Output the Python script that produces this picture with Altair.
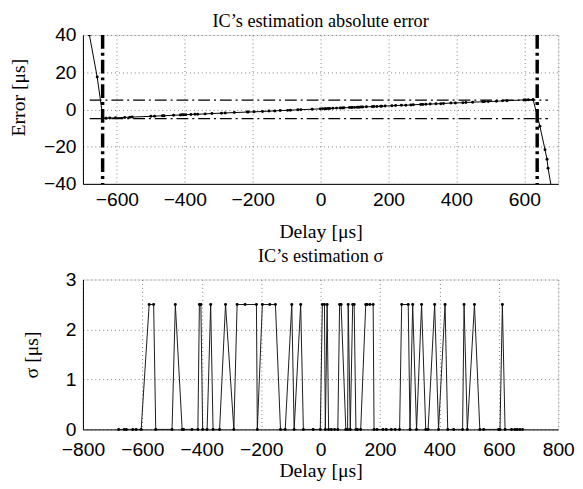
import altair as alt
import pandas as pd

# ---------------- data ----------------
# Top panel: estimation absolute error [us] vs delay [us]
err_delay = [-681, -658, -641, -632, -621, -604, -577, -562, -555, -500, -489, -466, -461,
             -433, -413, -408, -403, -397, -382, -370, -362, -340, -320, -292, -281, -254,
             -216, -213, -196, -171, -152, -135, -119, -97, -89, -67, -58, -25, -1, 6, 13,
             16, 22, 27, 36, 47, 58, 64, 69, 85, 91, 93, 100, 108, 113, 119, 124, 135, 152,
             157, 166, 177, 180, 190, 210, 221, 238, 251, 266, 273, 295, 301, 310, 323, 340,
             354, 362, 384, 397, 419, 428, 448, 478, 483, 494, 518, 536, 549, 599, 604, 612,
             626, 646, 661, 667, 670, 680]
err_value = [40.0, 17.4, -4.8, -4.7, -4.6, -4.5, -4.3, -4.2, -4.1, -3.7, -3.6, -3.4, -3.4,
             -3.1, -3.0, -2.9, -2.9, -2.8, -2.7, -2.6, -2.6, -2.4, -2.2, -2.0, -1.9, -1.7,
             -1.4, -1.4, -1.3, -1.1, -0.9, -0.8, -0.6, -0.5, -0.4, -0.2, -0.1, 0.1, 0.3, 0.4,
             0.4, 0.4, 0.5, 0.5, 0.6, 0.7, 0.8, 0.8, 0.9, 1.0, 1.0, 1.1, 1.1, 1.2, 1.2, 1.3,
             1.3, 1.4, 1.5, 1.6, 1.6, 1.7, 1.7, 1.8, 2.0, 2.1, 2.2, 2.3, 2.4, 2.5, 2.7, 2.7,
             2.8, 2.9, 3.0, 3.1, 3.2, 3.4, 3.5, 3.6, 3.7, 3.9, 4.1, 4.2, 4.2, 4.4, 4.6, 4.7,
             5.1, 5.1, 5.2, 5.3, -9.0, -21.6, -26.8, -31.6, -42.0]

# thresholds drawn on the top panel
limit_delays = [-642, 638]
limit_errors = [5, -5]
limit_span = [-680, 670]

# Bottom panel: estimation sigma [us] vs delay [us]
sig_delay = [-680, -661, -654, -632, -621, -604, -577, -562, -555, -500, -489, -466, -461,
             -433, -413, -408, -403, -397, -382, -370, -362, -340, -320, -292, -281, -254,
             -216, -213, -196, -171, -152, -135, -119, -97, -89, -67, -58, -25, -1, 6, 13,
             16, 22, 27, 36, 47, 58, 64, 69, 85, 91, 93, 100, 108, 113, 119, 124, 135, 152,
             157, 166, 177, 180, 190, 210, 221, 238, 251, 266, 273, 295, 301, 310, 323, 340,
             354, 362, 384, 397, 419, 428, 448, 478, 483, 494, 518, 536, 549, 599, 604, 612,
             621, 643, 654, 662, 671, 680]
sig_value = [0, 0, 0, 0, 0, 0, 2.5, 2.5, 0, 0, 2.5, 0, 0,
             0, 0, 2.5, 2.5, 0, 0, 2.5, 0, 0, 2.5, 0, 2.5, 2.5,
             2.5, 0, 2.5, 2.5, 2.5, 0, 0, 2.5, 0, 2.5, 0, 0, 0, 2.5, 2.5,
             0, 2.5, 0, 0, 0, 0, 2.5, 2.5, 0, 0, 2.5, 0, 2.5, 2.5, 0, 0, 0, 2.5,
             2.5, 2.5, 2.5, 0, 0, 0, 0, 0, 0, 0, 2.5, 2.5, 0, 2.5, 0, 2.5,
             0, 0, 2.5, 0, 2.5, 0, 0, 0, 2.5, 0, 2.5, 0, 0, 0, 0, 2.5,
             0, 0, 0, 0, 0, 0]

top_x_ticks = [-700, -600, -400, -200, 0, 200, 400, 600, 700]
top_y_ticks = [-40, -20, 0, 20, 40]
bot_x_ticks = [-800, -600, -400, -200, 0, 200, 400, 600, 800]
bot_y_ticks = [0, 1, 2, 3]

err_df = pd.DataFrame({"delay": err_delay, "error": err_value})
sig_df = pd.DataFrame({"delay": sig_delay, "sigma": sig_value})
vlim_df = pd.DataFrame({"delay": limit_delays})
hlim_df = pd.DataFrame({"error": limit_errors,
                        "x1": [limit_span[0]] * len(limit_errors),
                        "x2": [limit_span[1]] * len(limit_errors)})

SANS = "Liberation Sans"
SERIF = "Liberation Serif"
W, H = 482, 151

def axis(values, title, label_expr=None, title_pad=8, title_y=None, label_pad=7):
    kw = dict(values=values, title=title, grid=True, gridDash=[1, 3], gridColor="#808080",
              gridWidth=1, domainColor="black", domainWidth=1, ticks=False, tickSize=0,
              labelFont=SANS, labelFontSize=19.5, labelColor="black", labelPadding=label_pad,
              labelFlush=False, labelOverlap=False, labelSeparation=0,
              titleFont=SERIF, titleFontSize=20,
              titleFontWeight="normal", titleColor="black", titlePadding=title_pad)
    if label_expr:
        kw["labelExpr"] = label_expr
    if title_y is not None:
        kw["titleY"] = title_y
    return alt.Axis(**kw)

blank_edges = "abs(datum.value) == 700 ? '' : datum.label"

# ---------------- top panel ----------------
x_scale_top = alt.Scale(domain=[-700, 700], nice=False)
y_scale_top = alt.Scale(domain=[-40, 40], nice=False)
top_x_axis = axis(top_x_ticks, "Delay [μs]", blank_edges, title_pad=13)
top_y_axis = axis(top_y_ticks, "Error [μs]", title_pad=15, title_y=63)

tx = alt.X("delay:Q", scale=x_scale_top, axis=top_x_axis)
ty = alt.Y("error:Q", scale=y_scale_top, axis=top_y_axis)

top_line = alt.Chart(err_df).mark_line(color="black", strokeWidth=1, clip=True).encode(x=tx, y=ty)
top_pts = alt.Chart(err_df).mark_circle(color="black", size=9, opacity=1, clip=True).encode(
    x=tx, y=ty)
top_v = alt.Chart(vlim_df).mark_rule(color="black", strokeWidth=3.5,
                                     strokeDash=[14, 4, 3, 4]).encode(x=tx)
top_h = alt.Chart(hlim_df).mark_rule(color="black", strokeWidth=1.3,
                                     strokeDash=[12, 4, 2, 4]).encode(
    y=ty, x=alt.X("x1:Q", scale=x_scale_top, axis=top_x_axis), x2="x2:Q")

top = alt.layer(top_line, top_pts, top_v, top_h).properties(
    width=W, height=H,
    title=alt.TitleParams("IC’s estimation absolute error", font=SERIF, fontSize=18.5,
                          fontWeight="normal", color="black", offset=-5, anchor="middle"))

# ---------------- bottom panel ----------------
bx = alt.X("delay:Q", scale=alt.Scale(domain=[-800, 800], nice=False),
           axis=axis(bot_x_ticks, "Delay [μs]", title_pad=2, label_pad=11))
by = alt.Y("sigma:Q", scale=alt.Scale(domain=[0, 3], nice=False),
           axis=axis(bot_y_ticks, "σ [μs]", title_pad=24))

bot_line = alt.Chart(sig_df).mark_line(color="#1a1a1a", strokeWidth=1).encode(x=bx, y=by)
bot_pts = alt.Chart(sig_df).mark_circle(color="black", size=9, opacity=1).encode(x=bx, y=by)

bottom = alt.layer(bot_line, bot_pts).properties(
    width=W, height=H + 1,
    title=alt.TitleParams("IC’s estimation σ", font=SERIF, fontSize=18.5,
                          fontWeight="normal", color="black", offset=4, anchor="middle"))

chart = alt.vconcat(top, bottom, spacing=5).properties(
    padding={"top": 0, "left": 0, "right": 0, "bottom": 0}
).configure_view(strokeWidth=0).configure_axis(
    labelOverlap=False, labelSeparation=0
).configure(background="white")

chart.save("out.html", embed_options={"renderer": "svg", "actions": False})
